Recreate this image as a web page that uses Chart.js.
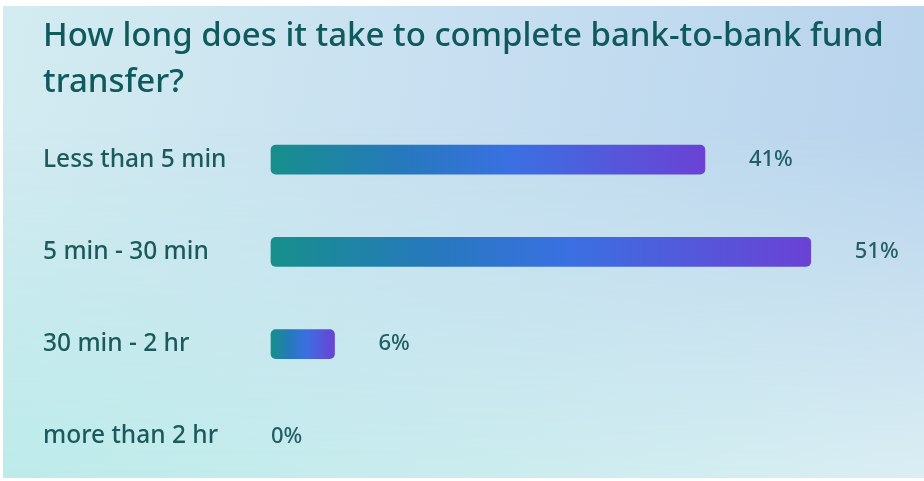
<!DOCTYPE html>
<html>
<head>
<meta charset="utf-8">
<script src="https://cdn.jsdelivr.net/npm/chart.js@4.4.1/dist/chart.umd.min.js"></script>
<style>
  html, body { margin: 0; padding: 0; background: #fff; }
  body { width: 924px; height: 481px; position: relative; overflow: hidden; }
  .bg {
    position: absolute; left: 3px; top: 6px; right: 0; bottom: 3px;
    background: linear-gradient(100deg, #d3ecf1 0%, #c6def0 50%, #b6d2ec 100%);
  }
  .bg::after {
    content: ""; position: absolute; inset: 0;
    background: linear-gradient(to right, #bcebea 0%, #cbecee 55%, #daeef3 100%);
    -webkit-mask-image: linear-gradient(to bottom, transparent 25%, #000 100%);
    mask-image: linear-gradient(to bottom, transparent 25%, #000 100%);
  }
  .wrap { position: absolute; left: 0; top: 0; width: 924px; height: 481px; }
</style>
</head>
<body>
<div class="bg"></div>
<div class="wrap"><canvas id="chart"></canvas></div>
<script>
const titleLines = ['How long does it take to complete bank-to-bank fund', 'transfer?'];
const categories = ['Less than 5 min', '5 min - 30 min', '30 min - 2 hr', 'more than 2 hr'];
const shares = [41, 51, 6, 0];

const FONT = '"Noto Sans", "Open Sans", sans-serif';
const TEXT = '#1b5a5b';

// each bar gets its own teal -> blue -> purple fill across its length
const barFill = (ctx) => {
  const chart = ctx.chart;
  const x = chart.scales.x;
  if (!ctx.raw) return 'rgba(0,0,0,0)';
  if (!x || !chart.chartArea) return '#2f7fc8';
  const x0 = x.getPixelForValue(0);
  const x1 = x.getPixelForValue(ctx.raw);
  const g = chart.ctx.createLinearGradient(x0, 0, x1, 0);
  g.addColorStop(0, '#178f8c');
  g.addColorStop(0.3, '#2679bd');
  g.addColorStop(0.55, '#3a70e2');
  g.addColorStop(0.8, '#5656da');
  g.addColorStop(1, '#6a42d5');
  return g;
};

// percent text to the right of each bar
const valueLabels = {
  id: 'valueLabels',
  afterDatasetsDraw(chart) {
    const c = chart.ctx;
    const meta = chart.getDatasetMeta(0);
    c.save();
    c.font = '500 22px ' + FONT;
    c.fillStyle = '#215f62';
    c.textBaseline = 'middle';
    c.textAlign = 'left';
    meta.data.forEach((bar, i) => {
      const v = shares[i];
      const x = v > 0 ? bar.x + 44 : bar.base;
      c.fillText(v + '%', x, bar.y);
    });
    c.restore();
  }
};

new Chart(document.getElementById('chart').getContext('2d'), {
  type: 'bar',
  data: {
    labels: categories,
    datasets: [
      {
        data: shares,
        backgroundColor: barFill,
        borderRadius: 5,
        borderSkipped: false,
        barThickness: 29,
        clip: false,
      },
    ],
  },
  options: {
    indexAxis: 'y',
    responsive: true,
    maintainAspectRatio: false,
    animation: false,
    layout: { padding: { left: 43, right: 18, top: 0, bottom: 44.5 } },
    plugins: {
      legend: { display: false },
      tooltip: { enabled: false },
      title: {
        display: true,
        text: titleLines,
        align: 'start',
        color: '#0e5a5d',
        font: { family: FONT, size: 33, weight: '500', lineHeight: 1.38 },
        padding: { top: 14, bottom: 54.5 },
      },
    },
    scales: {
      x: { display: false, min: 0, max: 60 },
      y: {
        offset: false,
        grid: { display: false, offset: false },
        border: { display: false },
        ticks: {
          crossAlign: 'far',
          padding: 0,
          color: TEXT,
          font: { family: FONT, size: 24.5, weight: '500' },
        },
        afterFit(scale) { scale.width = 228; },
      },
    },
  },
  plugins: [valueLabels],
});
</script>
</body>
</html>
